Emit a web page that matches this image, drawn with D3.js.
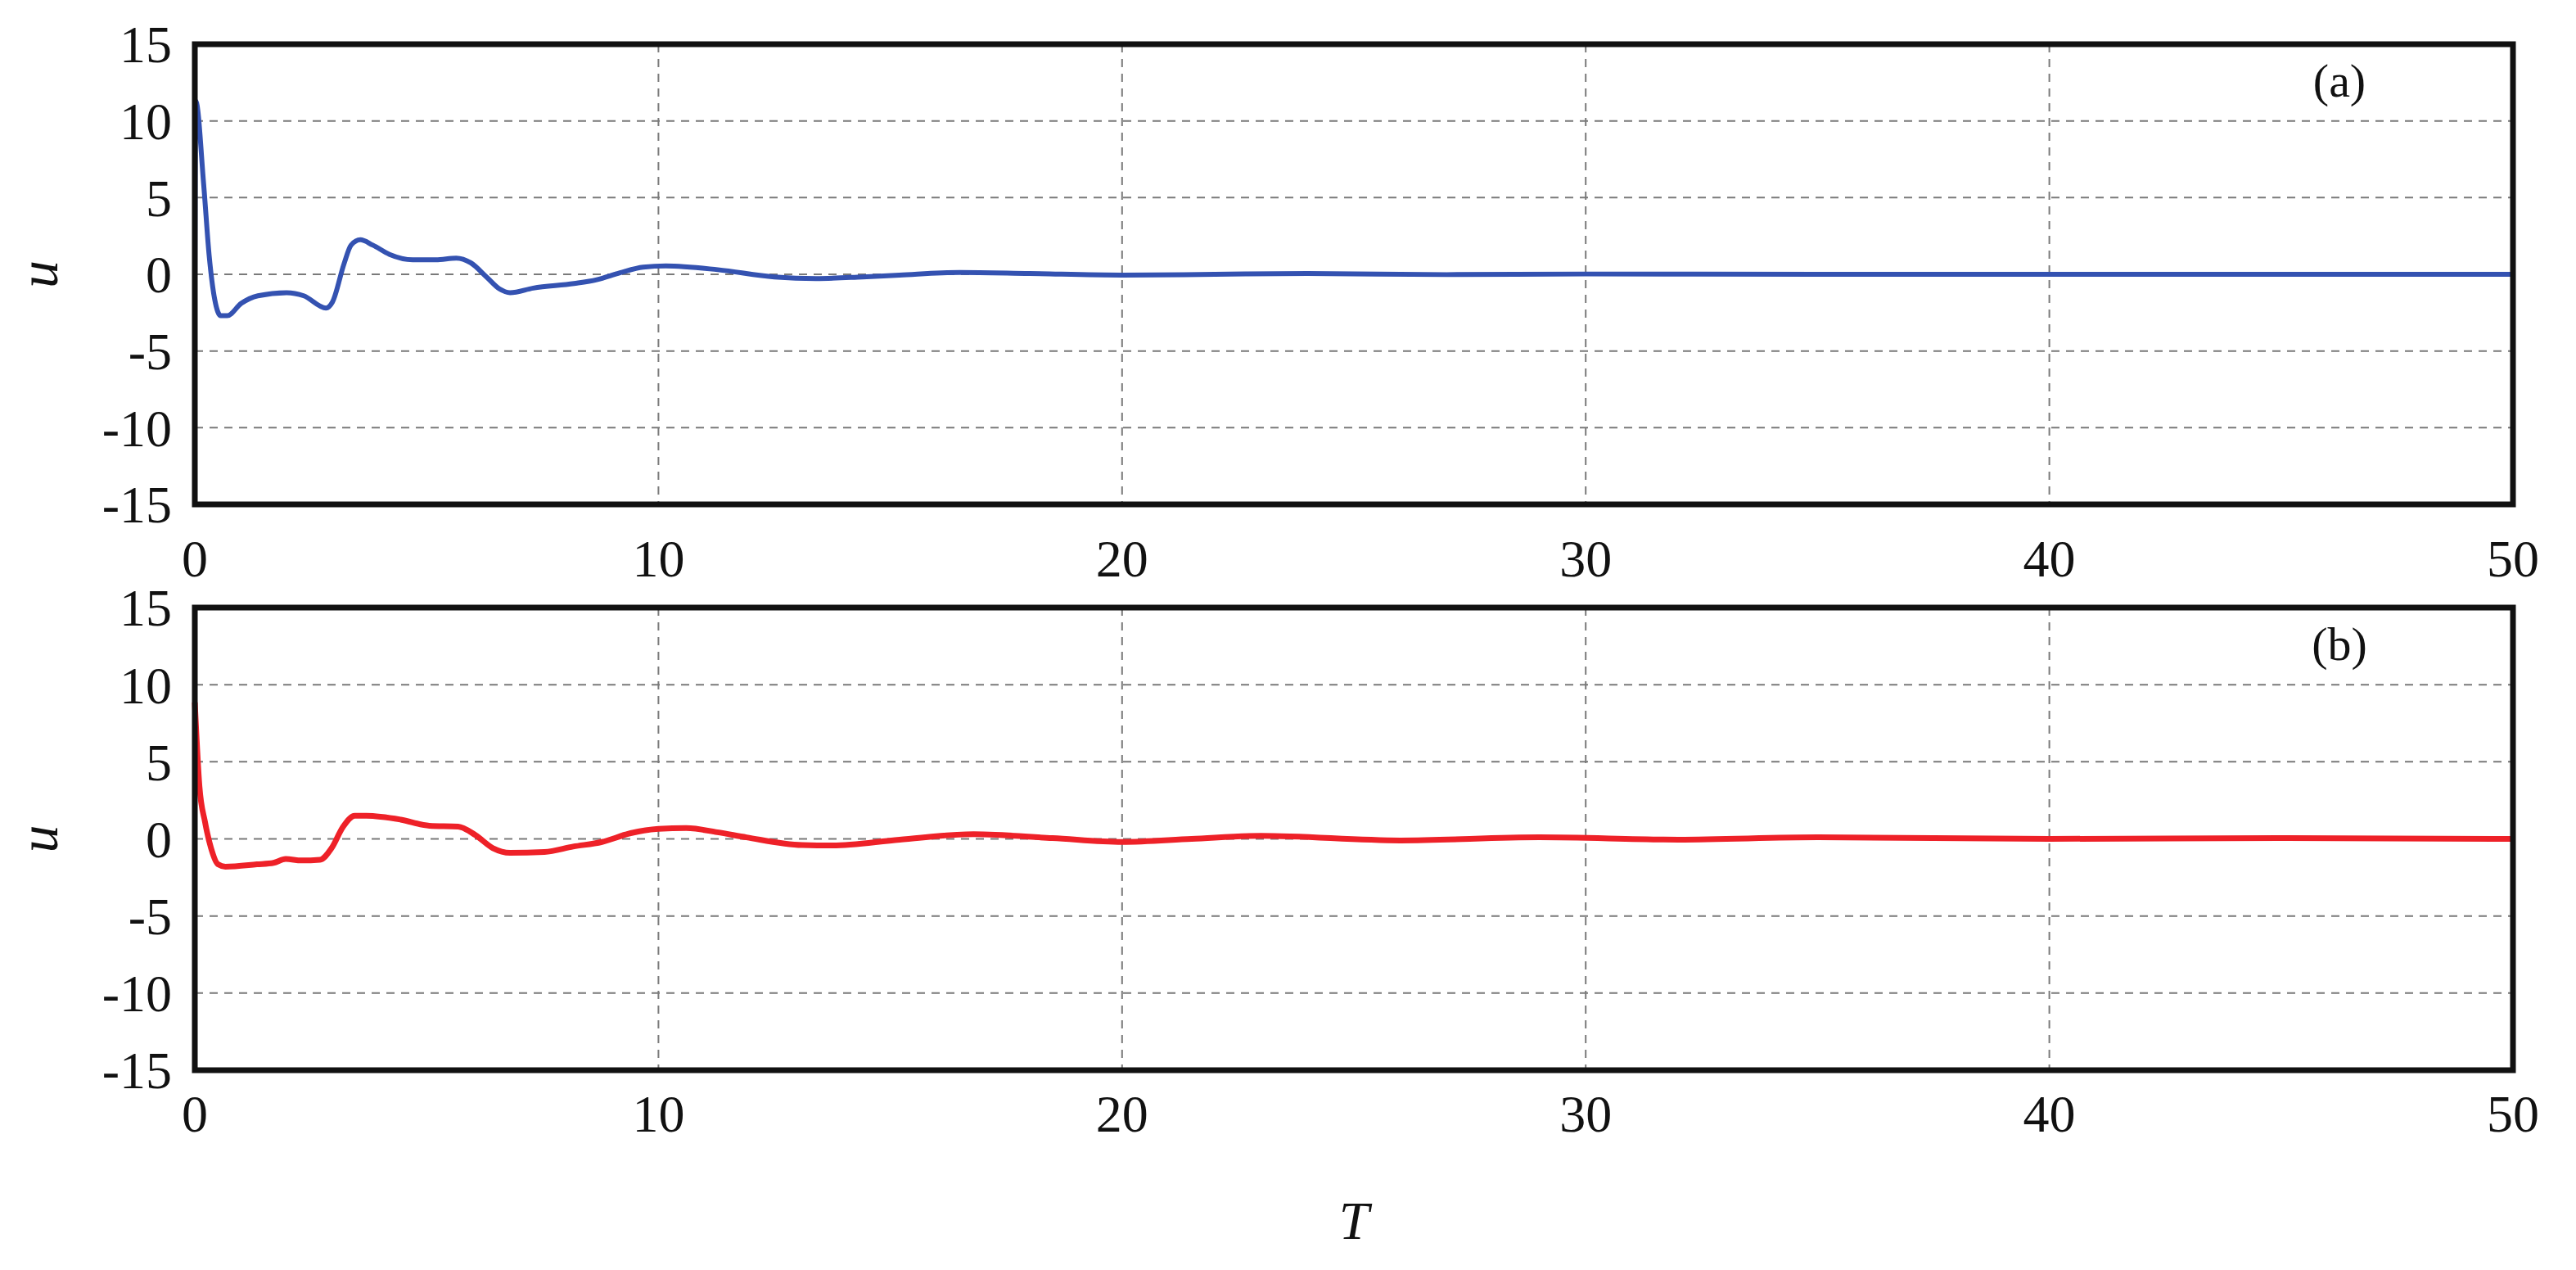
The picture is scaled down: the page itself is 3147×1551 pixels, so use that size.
<!DOCTYPE html>
<html>
<head>
<meta charset="utf-8">
<script src="https://cdn.jsdelivr.net/npm/d3@7/dist/d3.min.js"></script>
<style>
  body { margin: 0; background: #fff; }
  text { font-family: "Liberation Serif", "DejaVu Serif", serif; fill: #111; }
</style>
</head>
<body>
<svg id="chart" width="3147" height="1551"></svg>
<script>
// time axis ticks and value ticks
var xTicks = [0, 10, 20, 30, 40, 50];
var yTicks = [-15, -10, -5, 0, 5, 10, 15];

// panel (a) control input
var tA = [0, 0.02, 0.19, 0.31, 0.43, 0.56, 0.7, 1.0, 1.36, 1.98, 2.35, 2.83, 2.97, 3.22, 3.37, 3.57, 3.84, 4.2, 4.7, 5.2, 5.64, 5.95, 6.3, 6.57, 6.8, 7.3, 8.18, 8.67, 9.17, 9.67, 10.16, 11.28, 12.5, 13.4, 14.4, 15.2, 16.5, 18, 20, 22, 24, 27, 30, 35, 50];
var uA = [0, 11.3, 5.9, 1.2, -1.65, -2.7, -2.7, -1.9, -1.4, -1.2, -1.4, -2.2, -1.8, 0.7, 1.9, 2.25, 1.9, 1.3, 0.95, 0.95, 1.06, 0.75, -0.2, -0.95, -1.2, -0.9, -0.6, -0.35, 0.1, 0.47, 0.55, 0.3, -0.17, -0.28, -0.17, -0.05, 0.12, 0.05, -0.05, 0.0, 0.05, -0.02, 0.02, 0, 0];

// panel (b) control input
var tB = [0, 0.1, 0.22, 0.35, 0.5, 0.66, 1.34, 1.7, 1.96, 2.3, 2.7, 2.95, 3.2, 3.45, 3.7, 4.44, 5.06, 5.68, 6.05, 6.43, 6.8, 7.54, 8.16, 8.78, 9.4, 10.0, 10.6, 11.27, 11.9, 13.1, 13.75, 15.2, 16.8, 18.5, 20, 21.5, 23, 26, 29, 32, 35, 40, 45, 50];
var uB = [8.85, 3.4, 1.1, -0.6, -1.65, -1.8, -1.65, -1.55, -1.3, -1.4, -1.35, -0.6, 0.8, 1.5, 1.5, 1.25, 0.85, 0.8, 0.25, -0.6, -0.9, -0.85, -0.5, -0.2, 0.37, 0.65, 0.7, 0.43, 0.1, -0.4, -0.43, -0.05, 0.3, 0.05, -0.2, 0.0, 0.2, -0.1, 0.1, -0.05, 0.1, 0, 0.05, 0];

var panels = [
  { t: tA, u: uA, top: 54, bottom: 616, color: "#3452b1", tag: "(a)", labelY: 682, tagY: 98, width: 6 },
  { t: tB, u: uB, top: 742, bottom: 1307, color: "#ee2128", tag: "(b)", labelY: 1360, tagY: 786, width: 7 }
];

var svg = d3.select("#chart");
var left = 238, right = 3070;
var x = d3.scaleLinear().domain([0, 50]).range([left, right]);

panels.forEach(function (p) {
  var y = d3.scaleLinear().domain([-15, 15]).range([p.bottom, p.top]);
  var g = svg.append("g");

  // grid
  g.selectAll("line.hg").data(yTicks.slice(1, -1)).enter().append("line")
    .attr("x1", left).attr("x2", right)
    .attr("y1", function (d) { return y(d); }).attr("y2", function (d) { return y(d); })
    .attr("stroke", "#7a7a7a").attr("stroke-width", 2).attr("stroke-dasharray", "10,8");
  g.selectAll("line.vg").data(xTicks.slice(1, -1)).enter().append("line")
    .attr("y1", p.top).attr("y2", p.bottom)
    .attr("x1", function (d) { return x(d); }).attr("x2", function (d) { return x(d); })
    .attr("stroke", "#7a7a7a").attr("stroke-width", 2).attr("stroke-dasharray", "10,8");

  // curve
  var line = d3.line()
    .x(function (d, i) { return x(p.t[i]); })
    .y(function (d) { return y(d); })
    .curve(d3.curveMonotoneX);
  g.append("path").datum(p.u).attr("d", line)
    .attr("fill", "none").attr("stroke", p.color)
    .attr("stroke-width", p.width);

  // frame
  g.append("rect").attr("x", left).attr("y", p.top)
    .attr("width", right - left).attr("height", p.bottom - p.top)
    .attr("fill", "none").attr("stroke", "#111").attr("stroke-width", 7);

  // tick labels
  g.selectAll("text.yl").data(yTicks).enter().append("text")
    .attr("x", left - 28).attr("y", function (d) { return y(d); })
    .attr("dy", "0.35em").attr("text-anchor", "end").attr("font-size", 64)
    .text(function (d) { return d; });
  g.selectAll("text.xl").data(xTicks).enter().append("text")
    .attr("x", function (d) { return x(d); }).attr("y", p.labelY)
    .attr("dy", "0.35em").attr("text-anchor", "middle").attr("font-size", 64)
    .text(function (d) { return d; });

  // axis name and panel tag
  g.append("text")
    .attr("transform", "translate(70," + y(0) + ") rotate(-90)")
    .attr("text-anchor", "middle").attr("font-size", 68).attr("font-style", "italic")
    .text("u");
  g.append("text").attr("x", 2858).attr("y", p.tagY).attr("dy", "0.35em")
    .attr("text-anchor", "middle").attr("font-size", 58).text(p.tag);
});

svg.append("text").attr("x", x(25)).attr("y", 1490).attr("dy", "0.35em")
  .attr("text-anchor", "middle").attr("font-size", 66).attr("font-style", "italic")
  .text("T");
</script>
</body>
</html>
